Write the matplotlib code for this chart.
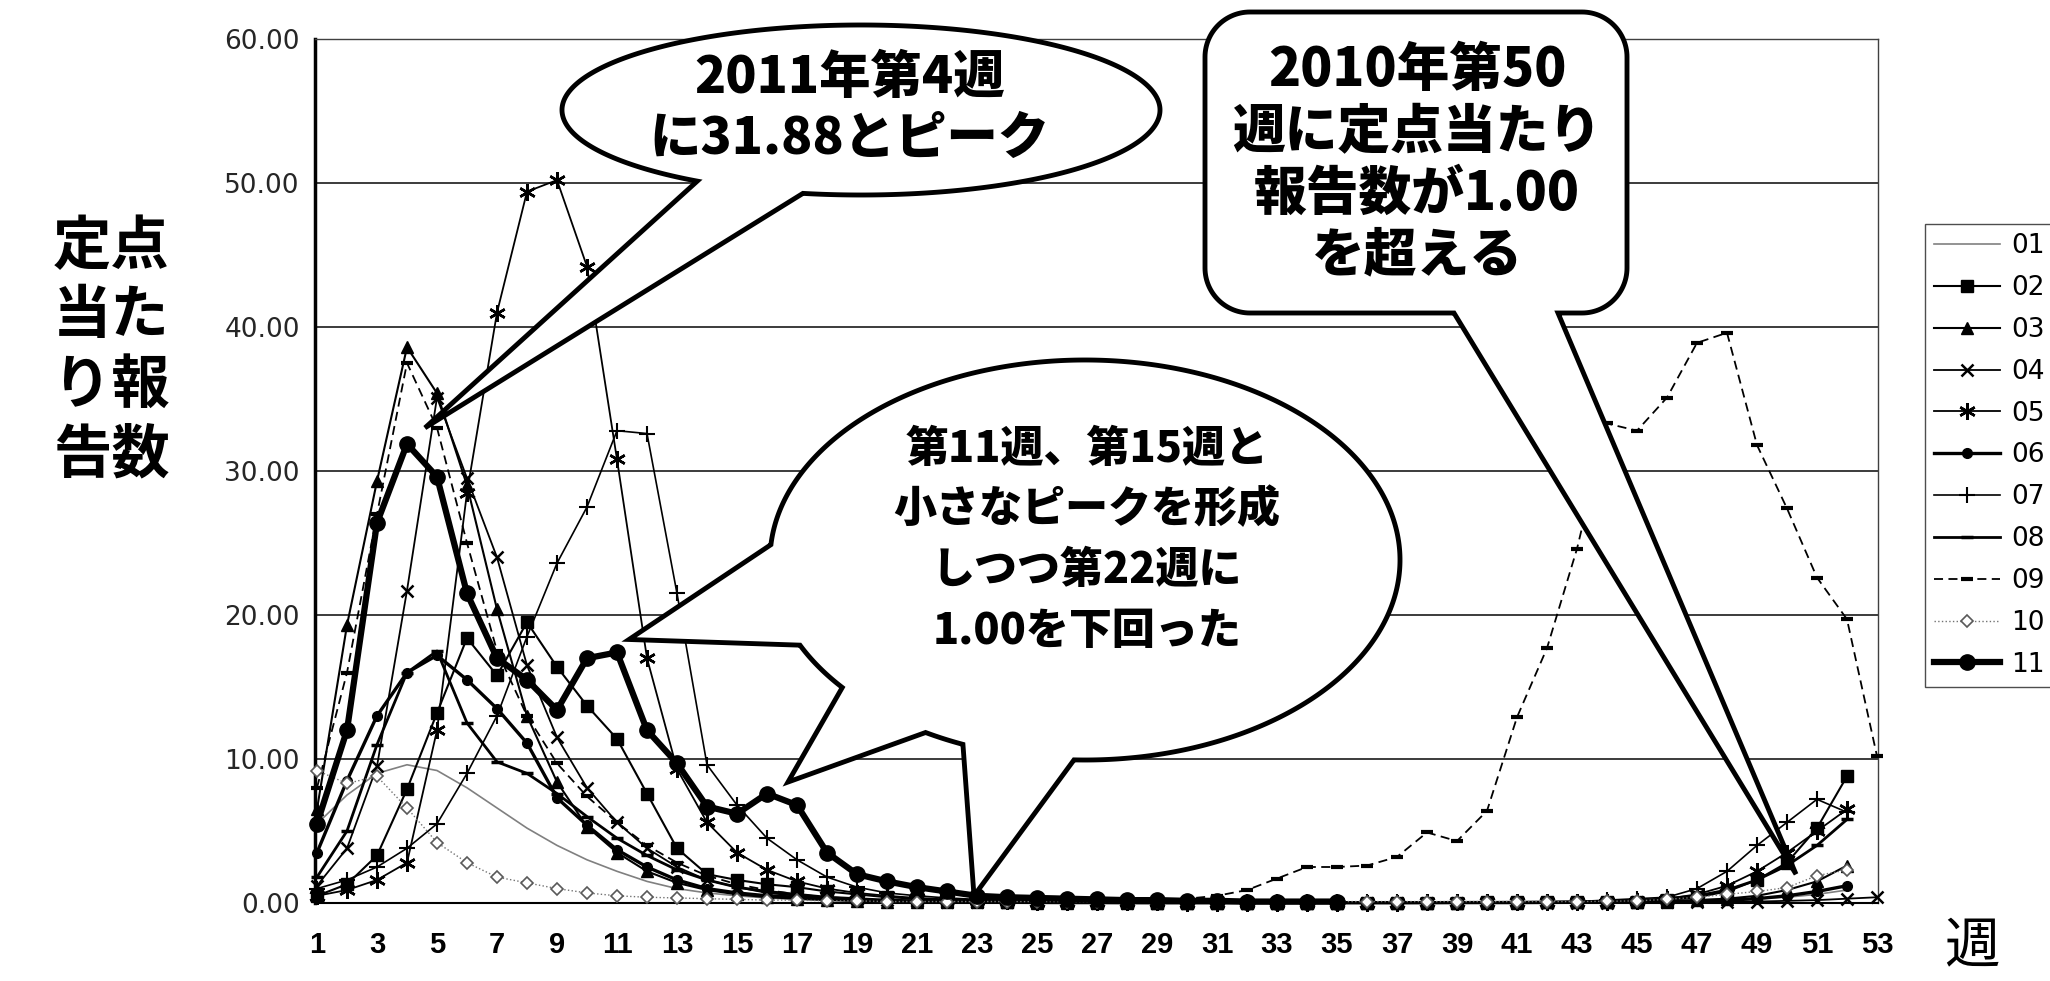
import numpy as np
import matplotlib
matplotlib.use("Agg")
import matplotlib.pyplot as plt
from matplotlib.patches import Polygon

plt.rcParams['font.family'] = ['Noto Sans CJK JP', 'DejaVu Sans']

W, H = 2050, 981

# ---------------- DATA ----------------
weeks = list(range(1, 54))
years = ['01', '02', '03', '04', '05', '06', '07', '08', '09', '10', '11']

s01 = [5.5, 7.5, 9.0, 9.6, 9.2, 8.0, 6.6, 5.2, 4.0, 3.0,
       2.2, 1.5, 1.0, 0.7, 0.5, 0.35, 0.25, 0.2, 0.15, 0.1,
       0.08, 0.06, 0.05, 0.04, 0.03, 0.03, 0.02, 0.02, 0.02, 0.02,
       0.02, 0.02, 0.02, 0.02, 0.02, 0.02, 0.02, 0.03, 0.03, 0.04,
       0.05, 0.05, 0.06, 0.08, 0.1, 0.1, 0.15, 0.2, 0.3, 0.4, 0.6, 0.9]
s02 = [0.5, 1.3, 3.3, 7.9, 13.2, 18.4, 15.8, 19.5, 16.4, 13.7,
       11.4, 7.6, 3.8, 2.0, 1.6, 1.3, 1.1, 0.8, 0.6, 0.4,
       0.3, 0.2, 0.15, 0.1, 0.08, 0.06, 0.05, 0.04, 0.03, 0.03,
       0.02, 0.02, 0.02, 0.02, 0.02, 0.02, 0.03, 0.03, 0.03, 0.04,
       0.04, 0.05, 0.06, 0.08, 0.1, 0.2, 0.4, 0.8, 1.6, 2.8, 5.2, 8.8]
s03 = [6.5, 19.3, 29.3, 38.6, 35.4, 29.0, 20.4, 13.0, 8.4, 5.3,
       3.5, 2.2, 1.4, 0.9, 0.6, 0.4, 0.3, 0.2, 0.15, 0.1,
       0.08, 0.06, 0.05, 0.04, 0.03, 0.03, 0.02, 0.02, 0.02, 0.02,
       0.02, 0.02, 0.02, 0.02, 0.02, 0.02, 0.02, 0.02, 0.03, 0.03,
       0.03, 0.04, 0.05, 0.06, 0.08, 0.1, 0.2, 0.3, 0.5, 0.9, 1.5, 2.6]
s04 = [1.2, 3.8, 9.5, 21.7, 35.1, 29.5, 24.0, 16.5, 11.5, 8.0,
       5.6, 3.8, 2.5, 1.6, 1.1, 0.7, 0.5, 0.35, 0.25, 0.2,
       0.15, 0.1, 0.08, 0.06, 0.05, 0.04, 0.03, 0.03, 0.02, 0.02,
       0.02, 0.02, 0.02, 0.02, 0.02, 0.02, 0.02, 0.02, 0.02, 0.02,
       0.02, 0.02, 0.03, 0.03, 0.04, 0.05, 0.06, 0.08, 0.1, 0.15, 0.2, 0.3, 0.4]
s05 = [0.5, 0.9, 1.6, 2.8, 12.0, 28.5, 41.0, 49.4, 50.2, 44.2,
       30.8, 17.0, 9.3, 5.6, 3.5, 2.3, 1.5, 1.0, 0.7, 0.5,
       0.35, 0.25, 0.2, 0.15, 0.1, 0.08, 0.06, 0.05, 0.04, 0.03,
       0.03, 0.03, 0.03, 0.03, 0.03, 0.03, 0.03, 0.04, 0.04, 0.05,
       0.05, 0.06, 0.08, 0.1, 0.15, 0.3, 0.6, 1.2, 2.2, 3.5, 5.0, 6.5]
s06 = [3.5, 8.5, 13.0, 16.0, 17.2, 15.5, 13.5, 11.1, 7.3, 5.4,
       3.7, 2.5, 1.6, 1.0, 0.7, 0.5, 0.4, 0.3, 0.2, 0.15,
       0.1, 0.08, 0.06, 0.05, 0.04, 0.03, 0.03, 0.02, 0.02, 0.02,
       0.02, 0.02, 0.02, 0.02, 0.02, 0.02, 0.02, 0.02, 0.03, 0.03,
       0.03, 0.04, 0.05, 0.06, 0.08, 0.1, 0.15, 0.2, 0.3, 0.5, 0.8, 1.2]
s07 = [1.0, 1.6, 2.5, 3.8, 5.5, 9.0, 13.0, 18.5, 23.6, 27.5,
       32.8, 32.6, 21.5, 9.6, 6.8, 4.5, 3.0, 1.8, 1.1, 0.7,
       0.5, 0.35, 0.25, 0.2, 0.15, 0.1, 0.08, 0.06, 0.05, 0.04,
       0.04, 0.04, 0.04, 0.04, 0.04, 0.04, 0.04, 0.04, 0.05, 0.05,
       0.05, 0.08, 0.1, 0.2, 0.3, 0.4, 1.0, 2.2, 4.0, 5.6, 7.2, 6.3]
s08 = [1.8, 5.0, 11.0, 16.0, 17.5, 12.5, 9.8, 9.0, 7.6, 6.0,
       4.5, 3.3, 2.3, 1.6, 1.1, 0.8, 0.6, 0.4, 0.3, 0.2,
       0.15, 0.1, 0.08, 0.06, 0.05, 0.04, 0.03, 0.03, 0.02, 0.02,
       0.02, 0.02, 0.02, 0.02, 0.02, 0.02, 0.02, 0.03, 0.03, 0.04,
       0.05, 0.06, 0.08, 0.1, 0.15, 0.3, 0.5, 0.9, 1.6, 2.6, 4.0, 5.8]
s09 = [8.0, 16.0, 27.0, 37.5, 33.0, 25.0, 17.5, 13.0, 9.7, 7.4,
       5.6, 4.0, 2.8, 1.9, 1.3, 0.9, 0.6, 0.4, 0.3, 0.2,
       0.15, 0.12, 0.1, 0.1, 0.1, 0.1, 0.15, 0.2, 0.2, 0.3,
       0.5, 0.9, 1.7, 2.5, 2.5, 2.6, 3.2, 4.9, 4.3, 6.4,
       12.9, 17.7, 24.6, 33.3, 32.8, 35.1, 38.9, 39.6, 31.8, 27.4, 22.6, 19.7, 10.2]
s10 = [9.2, 8.3, 8.8, 6.6, 4.2, 2.8, 1.8, 1.4, 1.0, 0.7,
       0.5, 0.4, 0.35, 0.3, 0.25, 0.2, 0.2, 0.15, 0.15, 0.1,
       0.1, 0.1, 0.1, 0.1, 0.1, 0.1, 0.1, 0.1, 0.1, 0.1,
       0.1, 0.1, 0.1, 0.1, 0.1, 0.1, 0.1, 0.1, 0.1, 0.1,
       0.1, 0.1, 0.1, 0.12, 0.15, 0.25, 0.4, 0.6, 0.8, 1.07, 1.9, 2.3]
s11 = [5.5, 12.0, 26.4, 31.88, 29.6, 21.5, 17.0, 15.5, 13.4, 17.0,
       17.4, 12.0, 9.7, 6.7, 6.2, 7.6, 6.8, 3.5, 2.0, 1.5,
       1.1, 0.8, 0.5, 0.4, 0.35, 0.3, 0.25, 0.2, 0.2, 0.15,
       0.15, 0.1, 0.1, 0.1, 0.1]

series = [s01, s02, s03, s04, s05, s06, s07, s08, s09, s10, s11]

yticks = [0, 10, 20, 30, 40, 50, 60]
xticks = list(range(1, 54, 2))

# ---------------- STYLES ----------------
styles = {
    '01': dict(color='0.5', lw=1.2),
    '02': dict(color='black', lw=1.5, marker='s', ms=8),
    '03': dict(color='black', lw=1.5, marker='^', ms=9),
    '04': dict(color='black', lw=1.3, marker='x', ms=9, mew=1.8),
    '05': dict(color='black', lw=1.3, marker=(6, 2, 0), ms=12, mew=1.8),
    '06': dict(color='black', lw=2.4, marker='o', ms=7),
    '07': dict(color='black', lw=1.2, marker='+', ms=11, mew=1.5),
    '08': dict(color='black', lw=2.0, marker='_', ms=9, mew=2.5),
    '09': dict(color='black', lw=1.3, ls=(0, (5, 3)), marker='_', ms=9, mew=3),
    '10': dict(color='0.45', lw=1.0, ls=':', marker='D', ms=6, mfc='white', mec='0.35', mew=1.2),
    '11': dict(color='black', lw=4.5, marker='o', ms=11),
}

# ---------------- FIGURE ----------------
fig = plt.figure(figsize=(W / 100, H / 100), dpi=100)
ax_left, ax_right, ax_top, ax_bot = 315, 1878, 39, 903
ax = fig.add_axes([ax_left / W, 1 - ax_bot / H, (ax_right - ax_left) / W, (ax_bot - ax_top) / H])

handles = []
for name, vals in zip(years, series):
    y = np.array(vals + [np.nan] * (53 - len(vals)), dtype=float)
    ln, = ax.plot(weeks, y, clip_on=False, zorder=3 if name != '11' else 4, **styles[name])
    handles.append(ln)

ax.set_xlim(1 - 2 / 30, 53 + 1 / 30)
ax.set_ylim(0, 60)
ax.set_yticks(yticks)
ax.set_yticklabels([f"{v:.2f}" for v in yticks], family='DejaVu Sans', fontsize=19, color='0.15')
ax.set_xticks(xticks)
ax.set_xticklabels([str(v) for v in xticks], family='Liberation Sans', fontweight='bold', fontsize=21)
ax.tick_params(axis='y', length=0, pad=11)
ax.tick_params(axis='x', length=0, pad=20)
ax.grid(axis='y', color='0.1', lw=1.2)
ax.set_axisbelow(True)
for side in ['top', 'right']:
    ax.spines[side].set_color('0.25')
    ax.spines[side].set_linewidth(1.0)
ax.spines['left'].set_linewidth(2.5)
ax.spines['bottom'].set_linewidth(1.5)

ax.set_ylabel("定点\n当た\nり報\n告数", rotation=0, fontsize=42, fontweight='bold',
              linespacing=1.2, ha='center', va='center')
ax.yaxis.set_label_coords((111 - ax_left) / (ax_right - ax_left), (ax_bot - 351) / (ax_bot - ax_top))
ax.set_xlabel("週", fontsize=40)
ax.xaxis.label.set_va('center')
ax.xaxis.set_label_coords((1972 - ax_left) / (ax_right - ax_left), (ax_bot - 948) / (ax_bot - ax_top))

fig.legend(handles, years, loc='upper left', bbox_to_anchor=(1925 / W, 1 - 224 / H),
           borderaxespad=0, handlelength=2.5, handletextpad=0.4,
           labelspacing=0.6, borderpad=0.35, fancybox=False, framealpha=1,
           edgecolor='0.3', prop={'family': 'DejaVu Sans', 'size': 19})

# ---------------- BUBBLES ----------------
ov = fig.add_axes([0, 0, 1, 1])
ov.set_xlim(0, W)
ov.set_ylim(H, 0)
ov.axis('off')
ov.set_zorder(5)


def to_px(x, y):
    d = ax.transData.transform((x, y))
    return d[0], H - d[1]


def densify(pts, step=2.0):
    out = []
    n = len(pts)
    for i in range(n):
        p, q = pts[i], pts[(i + 1) % n]
        k = max(1, int(np.hypot(*(q - p)) / step))
        for t in np.arange(k) / k:
            out.append(p + (q - p) * t)
    return np.array(out)


def ellipse_outline(cx, cy, a, b):
    t = np.linspace(0, 2 * np.pi, 900, endpoint=False)
    return np.column_stack([cx + a * np.cos(t), cy + b * np.sin(t)])


def rrect_outline(x0, y0, x1, y1, r):
    pts = []
    for cx, cy, a0, a1 in [(x1 - r, y0 + r, -90, 0), (x1 - r, y1 - r, 0, 90),
                           (x0 + r, y1 - r, 90, 180), (x0 + r, y0 + r, 180, 270)]:
        for a in np.radians(np.linspace(a0, a1, 30)):
            pts.append((cx + r * np.cos(a), cy + r * np.sin(a)))
    return densify(np.array(pts))


def with_tails(outline, tails):
    n = len(outline)
    removed = np.zeros(n, bool)
    insert = {}
    for b1, b2, tip in tails:
        i1 = int(np.argmin(np.hypot(*(outline - np.array(b1)).T)))
        i2 = int(np.argmin(np.hypot(*(outline - np.array(b2)).T)))
        if (i2 - i1) % n > n / 2:
            i1, i2 = i2, i1
        k = (i1 + 1) % n
        while k != i2:
            removed[k] = True
            k = (k + 1) % n
        insert[i1] = tip
    pts = []
    for i in range(n):
        if removed[i]:
            continue
        pts.append(outline[i])
        if i in insert:
            pts.append(insert[i])
    return np.array(pts)


def bubble(outline, tails):
    poly = Polygon(with_tails(outline, tails), closed=True, facecolor='white',
                   edgecolor='black', lw=3.5, joinstyle='miter')
    ov.add_patch(poly)


txt = dict(fontweight='heavy', ha='center', va='center', multialignment='center')

# 2011 peak
bubble(ellipse_outline(861, 110, 299, 85), [((697, 181), (803, 193), to_px(4.6, 33.0))])
ov.text(850, 108, "2011年第4週\nに31.88とピーク", fontsize=37, linespacing=1.2, **txt)

# 2010 week 50
bubble(rrect_outline(1205, 12, 1627, 313, 45), [((1453, 313), (1557, 313), to_px(50.3, 2.0))])
ov.text(1417, 163, "2010年第50\n週に定点当たり\n報告数が1.00\nを超える", fontsize=38,
        linespacing=1.2, **txt)

# small peaks
bubble(ellipse_outline(1085, 560, 315, 200),
       [((772, 545), (800, 645), to_px(11.4, 18.3)),
        ((840, 690), (925, 735), to_px(16.7, 8.4)),
        ((963, 744), (1075, 760), to_px(22.9, 0.5))])
ov.text(1087, 540, "第11週、第15週と\n小さなピークを形成\nしつつ第22週に\n1.00を下回った",
        fontsize=31, linespacing=1.5, **txt)

fig.savefig("out.png", dpi=100)
